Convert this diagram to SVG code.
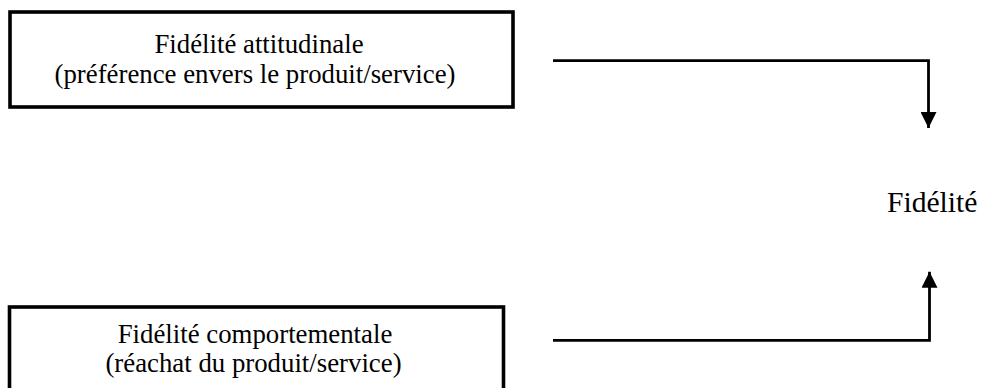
<svg xmlns="http://www.w3.org/2000/svg" width="982" height="388" viewBox="0 0 982 388">
  <style>
    .box { fill: #fff; stroke: #000; stroke-width: 3.6; }
    .lbl { font-family: "Liberation Serif", "Times New Roman", serif; font-size: 26.8px; fill: #000; text-anchor: middle; }
    .big { font-family: "Liberation Serif", "Times New Roman", serif; font-size: 29.6px; fill: #000; }
    .wire { fill: none; stroke: #000; stroke-width: 2.8; }
  </style>
  <defs>
    <marker id="head" viewBox="0 0 10 10" refX="10" refY="5" markerUnits="userSpaceOnUse" markerWidth="16" markerHeight="16" orient="auto">
      <path d="M0,0 L10,5 L0,10 Z" fill="#000"/>
    </marker>
  </defs>
  <rect width="982" height="388" fill="#fff"/>

  <g id="attitudinale">
    <rect class="box" x="10" y="12" width="503" height="95"/>
    <text class="lbl" x="259" y="53">Fidélité attitudinale</text>
    <text class="lbl" x="255" y="83">(préférence envers le produit/service)</text>
  </g>

  <g id="comportementale">
    <rect class="box" x="9.5" y="307" width="494" height="100"/>
    <text class="lbl" x="255" y="343">Fidélité comportementale</text>
    <text class="lbl" x="253.5" y="372">(réachat du produit/service)</text>
  </g>

  <g id="fidelite">
    <text class="big" x="887" y="212">Fidélité</text>
  </g>

  <g id="connectors">
    <path class="wire" d="M553,60.7 H928.5 V128" marker-end="url(#head)"/>
    <path class="wire" d="M553,340.3 H929.5 V271.7" marker-end="url(#head)"/>
  </g>
</svg>
